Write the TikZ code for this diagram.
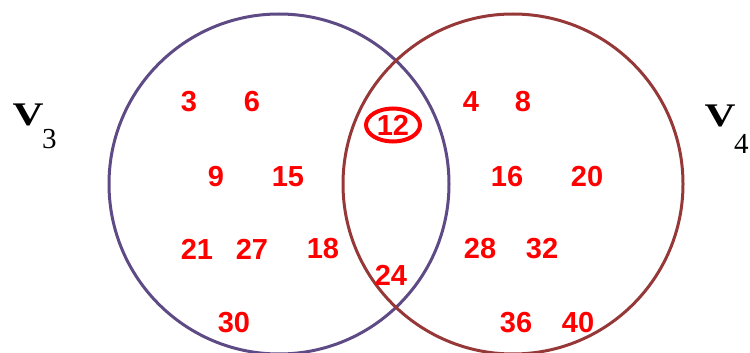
\documentclass[tikz,border=0pt]{standalone}
\usepackage{fontspec}
\setmainfont{Liberation Serif}
\newfontfamily\numfont{Liberation Sans}
\usepackage{tikz}

\definecolor{setpurple}{RGB}{94,74,133}
\definecolor{setbrown}{RGB}{150,56,56}

\begin{document}
\begin{tikzpicture}[x=1pt,y=-1pt,
    elem/.style={text=red, font=\numfont\bfseries\fontsize{29}{29}\selectfont, inner sep=0pt},
    setname/.style={inner sep=0pt, font=\bfseries\fontsize{33}{33}\selectfont, xscale=1.3},
    setindex/.style={inner sep=0pt, font=\fontsize{29}{29}\selectfont, anchor=west}]
    \clip (0,0) rectangle (750,353);
    \useasboundingbox (0,0) rectangle (750,353);

    % Draw Sets
    \draw[setpurple, line width=3pt] (279,184) circle (170);
    \draw[setbrown, line width=3pt] (513,184) circle (170);

    % Set labels
    \node[setname] (v3) at (28,115) {V};
    \node[setindex] (s3) at (42,139) {3};
    \node[setname] (v4) at (720,116) {V};
    \node[setindex] (s4) at (734,144) {4};

    % Multiples of 3 only
    \node[elem] (n3) at (189,102) {3};
    \node[elem] (n6) at (252,102) {6};
    \node[elem] (n9) at (216,177) {9};
    \node[elem] (n15) at (288,177) {15};
    \node[elem] (n21) at (197,249) {21};
    \node[elem] (n27) at (252,249) {27};
    \node[elem] (n18) at (323,249) {18};
    \node[elem] (n30) at (234,323) {30};

    % Common multiples
    \node[elem] (n12) at (393,125) {12};
    \draw[red, line width=4pt] (n12) ellipse (27 and 16.5);
    \node[elem] (n24) at (391,275) {24};

    % Multiples of 4 only
    \node[elem] (n4) at (471,102) {4};
    \node[elem] (n8) at (523,102) {8};
    \node[elem] (n16) at (507,177) {16};
    \node[elem] (n20) at (587,177) {20};
    \node[elem] (n28) at (480,249) {28};
    \node[elem] (n32) at (542,249) {32};
    \node[elem] (n36) at (516,323) {36};
    \node[elem] (n40) at (578,323) {40};
\end{tikzpicture}
\end{document}
